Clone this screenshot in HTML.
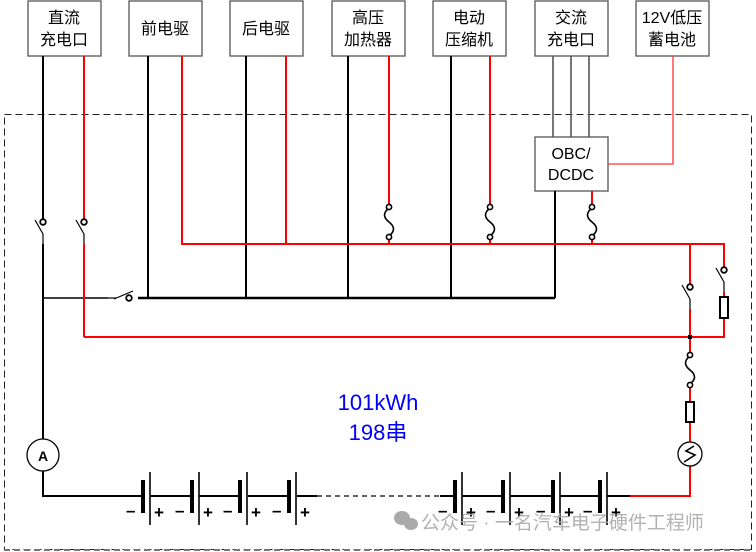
<!DOCTYPE html>
<html><head><meta charset="utf-8"><style>
html,body{margin:0;padding:0;background:#fff;}
svg{display:block;}
text{font-family:"Liberation Sans","Noto Sans CJK SC",sans-serif;}
</style></head><body>
<svg width="756" height="552" viewBox="0 0 756 552" xmlns="http://www.w3.org/2000/svg">
<defs>
<g id="fuse"><rect x="-7" y="-15" width="14" height="30" fill="#fff"/><path d="M0,-14 q-9,7 0,14 q9,7 0,14" fill="none" stroke="#000" stroke-width="1.6"/><circle cx="0" cy="-15" r="2.6" fill="#fff" stroke="#000" stroke-width="1.6"/><circle cx="0" cy="15" r="2.6" fill="#fff" stroke="#000" stroke-width="1.6"/></g>
<g id="sw"><line x1="0" y1="0" x2="0" y2="22" stroke="#fff" stroke-width="4"/><line x1="-8" y1="-2" x2="0" y2="12" stroke="#000" stroke-width="1.2"/><circle cx="0" cy="0" r="2.8" fill="#fff" stroke="#000" stroke-width="1.8"/><line x1="0" y1="12" x2="0" y2="22" stroke="#000" stroke-width="1.2"/></g>
<g id="cell"><line x1="0" y1="-16" x2="0" y2="17" stroke="#000" stroke-width="4"/><line x1="7" y1="-24" x2="7" y2="29" stroke="#000" stroke-width="1.6"/><text x="-17" y="20" font-size="17" font-weight="bold">–</text><text x="11" y="22" font-size="17" font-weight="bold">+</text></g>
</defs>
<!-- dashed enclosure -->
<rect x="4.5" y="114.5" width="747" height="435" fill="none" stroke="#222" stroke-width="1" stroke-dasharray="7,4"/>
<line x1="4" y1="550" x2="752" y2="550" stroke="#777" stroke-width="2" stroke-dasharray="6,4"/>
<!-- boxes -->
<g fill="#fff" stroke="#555" stroke-width="1.3">
<rect x="28" y="1" width="73" height="55"/><rect x="129" y="1" width="73" height="55"/><rect x="230" y="1" width="73" height="55"/><rect x="332" y="1" width="73" height="55"/><rect x="433" y="1" width="73" height="55"/><rect x="535" y="1" width="73" height="55"/><rect x="636" y="1" width="73" height="55"/>
</g>
<g font-size="16" text-anchor="middle" fill="#000">
<text x="64" y="23">直流</text><text x="64" y="45">充电口</text>
<text x="165" y="34">前电驱</text><text x="266" y="34">后电驱</text>
<text x="368" y="23">高压</text><text x="368" y="45">加热器</text>
<text x="469" y="23">电动</text><text x="469" y="45">压缩机</text>
<text x="571" y="23">交流</text><text x="571" y="45">充电口</text>
<text x="672" y="23">12V低压</text><text x="672" y="45">蓄电池</text>
</g>
<!-- AC lines -->
<g stroke="#555" stroke-width="1.6"><line x1="553" y1="56" x2="553" y2="137"/><line x1="571" y1="56" x2="571" y2="137"/><line x1="589" y1="56" x2="589" y2="137"/></g>
<rect x="535" y="137" width="73" height="54" fill="#fff" stroke="#555" stroke-width="1.3"/>
<text x="571" y="159" font-size="16" text-anchor="middle">OBC/</text><text x="571" y="180" font-size="16" text-anchor="middle">DCDC</text>
<polyline points="608,164 673,164 673,56" fill="none" stroke="#f33" stroke-width="1.3"/>
<!-- black lines -->
<g stroke="#000" stroke-width="2" fill="none">
<line x1="43" y1="56" x2="43" y2="439"/>
<polyline points="43,471 43,496 142,496"/>
<line x1="148" y1="56" x2="148" y2="298"/>
<line x1="246" y1="56" x2="246" y2="298"/>
<line x1="348" y1="56" x2="348" y2="298"/>
<line x1="451" y1="56" x2="451" y2="298"/>
<line x1="555" y1="191" x2="555" y2="298"/>
<line x1="43" y1="298" x2="108" y2="298" stroke-width="1.6"/>
<line x1="138" y1="298" x2="555" y2="298" stroke-width="2.4"/>
<line x1="150" y1="496" x2="191" y2="496"/><line x1="199" y1="496" x2="240" y2="496"/><line x1="248" y1="496" x2="289" y2="496"/>
<line x1="297" y1="496" x2="317" y2="496"/>
<line x1="317" y1="496" x2="455" y2="496" stroke-width="1.2" stroke-dasharray="5,4"/>
<line x1="440" y1="496" x2="455" y2="496"/>
<line x1="462" y1="496" x2="503" y2="496"/><line x1="510" y1="496" x2="553" y2="496"/><line x1="560" y1="496" x2="600" y2="496"/><line x1="607" y1="496" x2="630" y2="496"/>
</g>
<!-- main switch on black bus -->
<line x1="108" y1="298" x2="116" y2="298" stroke="#000" stroke-width="1.2"/>
<line x1="114" y1="299" x2="133" y2="291" stroke="#000" stroke-width="1.2"/>
<circle cx="129" cy="298" r="2.8" fill="#fff" stroke="#000" stroke-width="1.8"/>
<!-- red lines -->
<g stroke="#f00" stroke-width="2" fill="none">
<line x1="84" y1="56" x2="84" y2="337"/>
<line x1="84" y1="337" x2="690" y2="337"/>
<polyline points="182,56 182,244 724,244 724,268"/>
<line x1="286" y1="56" x2="286" y2="244"/>
<line x1="389" y1="56" x2="389" y2="244"/>
<line x1="490" y1="56" x2="490" y2="244"/>
<line x1="592" y1="191" x2="592" y2="244"/>
<line x1="690" y1="244" x2="690" y2="442"/>
<polyline points="690,466 690,496 630,496"/>
<polyline points="724,292 724,337 690,337"/>
</g>
<rect x="688" y="335" width="4" height="4" fill="#000"/>
<!-- fuses -->
<use href="#fuse" x="389" y="222"/><use href="#fuse" x="490" y="222"/><use href="#fuse" x="592" y="222"/><use href="#fuse" x="690" y="370"/>
<!-- switches -->
<use href="#sw" x="43" y="222"/><use href="#sw" x="84" y="222"/><use href="#sw" x="690" y="287"/><use href="#sw" x="724" y="270"/>
<!-- resistors -->
<rect x="720" y="297" width="8" height="21" fill="#fff" stroke="#000" stroke-width="2"/>
<rect x="686" y="402" width="8" height="20" fill="#fff" stroke="#000" stroke-width="2"/>
<!-- sensor -->
<circle cx="690" cy="454" r="12" fill="#fff" stroke="#000" stroke-width="1.3"/>
<polyline points="684,462 695,455 686,451 694,446" fill="none" stroke="#000" stroke-width="1.6"/>
<!-- ammeter -->
<circle cx="43" cy="455" r="16" fill="#fff" stroke="#000" stroke-width="1.3"/>
<text x="43" y="461" font-size="14" font-weight="bold" text-anchor="middle">A</text>
<!-- cells -->
<use href="#cell" x="143" y="496"/><use href="#cell" x="192" y="496"/><use href="#cell" x="240" y="496"/><use href="#cell" x="289" y="496"/>
<use href="#cell" x="455" y="496"/><use href="#cell" x="503" y="496"/><use href="#cell" x="553" y="496"/><use href="#cell" x="600" y="496"/>
<!-- label -->
<text x="378" y="410" font-size="22" fill="#00f" text-anchor="middle">101kWh</text>
<text x="378" y="440" font-size="22" fill="#00f" text-anchor="middle">198串</text>
<!-- watermark -->
<g fill="#aaa"><ellipse cx="402" cy="518" rx="8" ry="7"/><ellipse cx="411" cy="524" rx="7" ry="6"/></g>
<text x="421" y="529" font-size="19" fill="#aaa" opacity="0.9">公众号 · 一名汽车电子硬件工程师</text>
</svg>
</body></html>
